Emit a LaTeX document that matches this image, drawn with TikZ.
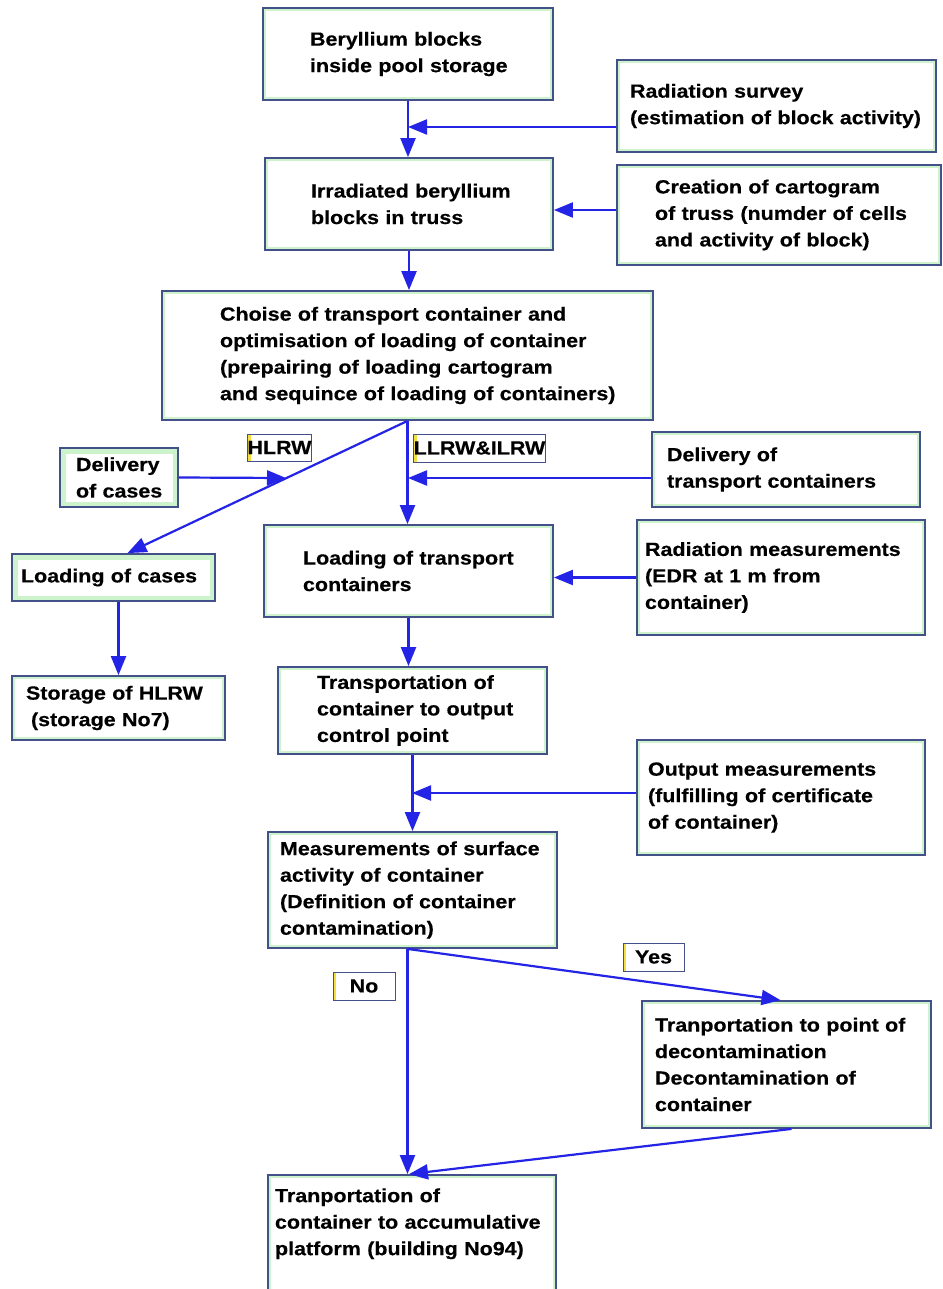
\documentclass[tikz,border=0pt]{standalone}
\usepackage{fontspec}
\setmainfont{Liberation Sans}[FakeStretch=1.13,BoldFeatures={FakeBold=0.4}]
\usetikzlibrary{arrows.meta}
\definecolor{bordercol}{HTML}{44508A}
\definecolor{boxgreen}{HTML}{CDF3CD}
\definecolor{arrline}{HTML}{2424E6}
\definecolor{tagyellow}{HTML}{F2E040}
\tikzset{
  inset/.style={path picture={\fill[white] ([shift={(#1,#1)}]path picture bounding box.south west) rectangle ([shift={(-#1,-#1)}]path picture bounding box.north east);}},
  box/.style={draw=bordercol, line width=1.8pt, fill=boxgreen, inset=3pt,
    inner xsep=0pt, inner ysep=0pt, align=left, text=black,
    font=\bfseries\fontsize{19}{26.5}\selectfont},
  thickgreen/.style={inset=5.5pt},
  tag/.style={draw=bordercol, line width=1pt, fill=tagyellow, inner sep=0pt,
    font=\bfseries\fontsize{19}{22}\selectfont,
    path picture={\fill[white] ([shift={(3pt,0pt)}]path picture bounding box.south west) rectangle (path picture bounding box.north east);}},
  arr/.style={draw=arrline, line width=2.2pt, -{Triangle[length=19pt,width=15pt]}, color=arrline},
}
\begin{document}
\begin{tikzpicture}[x=1pt,y=-1pt]
\useasboundingbox (0,0) rectangle (942,1289);
\fill[white] (0,0) rectangle (942,1289);

% boxes
\node[box, minimum width=290, minimum height=92, text width=196] (b1) at (408,54)
  {\mbox{Beryllium blocks}\\\mbox{inside pool storage}};
\node[box, minimum width=319, minimum height=92, text width=293] (b2) at (776.5,106)
  {\mbox{Radiation survey}\\\mbox{(estimation of block activity)}};
\node[box, minimum width=288, minimum height=92, text width=196] (b3) at (409,204)
  {\mbox{Irradiated beryllium}\\\mbox{blocks in truss}};
\node[box, minimum width=324, minimum height=100, text width=248] (b4) at (779,215)
  {\mbox{Creation of cartogram}\\\mbox{of truss (numder of cells}\\\mbox{and activity of block)}};
\node[box, minimum width=491, minimum height=129, text width=375] (b5) at (407.5,355.5)
  {\mbox{Choise of transport container and}\\\mbox{optimisation of loading of container}\\\mbox{(prepairing of loading cartogram}\\\mbox{and sequince of loading of containers)}};
\node[box, thickgreen, minimum width=118, minimum height=59, text width=86] (b6) at (119,477.5)
  {\mbox{Delivery}\\\mbox{of cases}};
\node[box, thickgreen, minimum width=203, minimum height=47, text width=185] (b7) at (113.5,577.5)
  {\mbox{Loading of cases}};
\node[box, minimum width=213, minimum height=64, text width=185] (b8) at (118.5,708)
  {\mbox{Storage of HLRW}\\\mbox{\hspace*{5pt}(storage No7)}};
\node[box, minimum width=268, minimum height=75, text width=238] (b9) at (786,469.5)
  {\mbox{Delivery of}\\\mbox{transport containers}};
\node[box, minimum width=289, minimum height=92, text width=211] (b10) at (408.5,571)
  {\mbox{Loading of transport}\\\mbox{containers}};
\node[box, minimum width=288, minimum height=115, text width=272] (b11) at (781,577.5)
  {\mbox{Radiation measurements}\\\mbox{(EDR at 1 m from}\\\mbox{container)}};
\node[box, minimum width=269, minimum height=87, text width=191] (b12) at (412.5,710.5)
  {\mbox{Transportation of}\\\mbox{container to output}\\\mbox{control point}};
\node[box, minimum width=288, minimum height=115, text width=266] (b13) at (781,797.5)
  {\mbox{Output measurements}\\\mbox{(fulfilling of certificate}\\\mbox{of container)}};
\node[box, minimum width=289, minimum height=116, text width=265] (b14) at (412.5,890)
  {\mbox{Measurements of surface}\\\mbox{activity of container}\\\mbox{(Definition of container}\\\mbox{contamination)}};
\node[box, minimum width=289, minimum height=127, text width=263] (b15) at (786.5,1064.5)
  {\mbox{Tranportation to point of}\\\mbox{decontamination}\\\mbox{Decontamination of}\\\mbox{container}};
\node[box, minimum width=288, minimum height=125, text width=274] (b16) at (412,1237.5)
  {\mbox{Tranportation of}\\\mbox{container to accumulative}\\\mbox{platform (building No94)}\\[5pt]\mbox{}};

% tags
\node[tag, minimum width=61, minimum height=27] (tH) at (279.5,447.5) {HLRW};
\node[tag, minimum width=131, minimum height=28] (tL) at (479.5,448) {LLRW\&ILRW};
\node[tag, minimum width=61, minimum height=28] (tY) at (653.5,957) {Yes};
\node[tag, minimum width=62, minimum height=28] (tN) at (364,986) {No};

% junction points
\coordinate (j1) at (408,127);
\coordinate (j3) at (408,478);
\coordinate (j4) at (286,478);
\coordinate (j5) at (412,793);

% connectors
\draw[arr] (b1.south) -- (b1.south |- b3.north);
\draw[arr] (b2.west |- j1) -- (j1);
\draw[arr] ([yshift=5pt]b4.west) -- ([yshift=-6pt]b3.east);
\draw[arr] (b3.south) -- (b3.south |- b5.north);
\draw[arr] (b5.south) -- (b5.south |- b10.north);
\draw[arr] (b9.west |- j3) -- (j3);
\draw[arr] (b5.south) -- ([xshift=14pt]b7.north);
\draw[arr] (b6.east) -- (j4);
\draw[arr] ([xshift=5pt]b7.south) -- ([xshift=5pt]b7.south |- b8.north);
\draw[arr] (b11.west) -- (b10.east |- b11.west);
\draw[arr] (b10.south) -- (b10.south |- b12.north);
\draw[arr] (b12.south) -- (b12.south |- b14.north);
\draw[arr] (b13.west |- j5) -- (j5);
\draw[arr] ([xshift=-5pt]b14.south) -- ([xshift=-5pt]b14.south |- b16.north);
\draw[arr] ([xshift=-5pt]b14.south) -- ([xshift=-6pt]b15.north);
\draw[arr] ([xshift=5pt]b15.south) -- ([xshift=-3pt]b16.north);
\end{tikzpicture}
\end{document}
